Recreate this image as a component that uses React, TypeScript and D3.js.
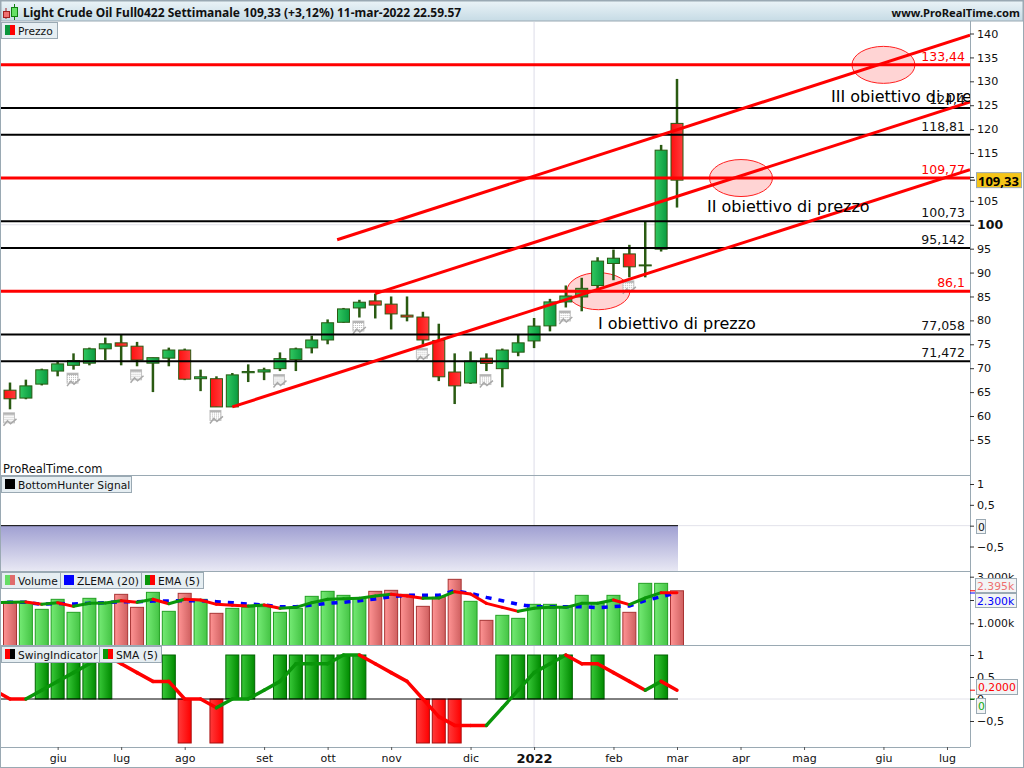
import React, { useEffect, useRef } from 'react'
import * as d3 from 'd3'

// Weekly candles
const opens = [65.4, 63.75, 66.67, 69.4, 70.6, 71.05, 74.05, 75.3, 74.6, 71.05, 72.1, 73.8, 67.8, 67.8, 61.9, 69.05, 69.2, 69.9, 71.8, 74.25, 75.9, 79.6, 82.6, 84.07, 83.4, 81.1, 80.7, 75.8, 69.2, 66.9, 72.1, 69.9, 73.35, 75.7, 78.85, 83.86, 84.9, 87.3, 91.9, 93.9, 91.4, 94.9, 121.2]
const closes = [63.6, 66.3, 69.66, 70.9, 71.6, 74.05, 75.1, 74.6, 71.7, 72.2, 73.8, 67.7, 68.2, 61.9, 68.6, 69.3, 69.66, 72, 74.05, 75.9, 79.5, 82.4, 83.8, 83.2, 81.35, 80.7, 75.9, 68.2, 66.3, 71.5, 71, 73.8, 75.3, 78.8, 83.86, 85.1, 86.7, 92.4, 93, 91.2, 91.6, 115.6, 109.33]
const highs = [67, 67.6, 69.9, 71.5, 73.1, 74.3, 76.4, 77.1, 75.5, 72.2, 74.3, 74.1, 69.7, 68.3, 69, 70.8, 70.1, 73.3, 74.3, 76.8, 80.2, 82.6, 84.3, 85.6, 85, 85, 81.8, 79.3, 73.1, 73.5, 73.1, 74.1, 77.1, 80.5, 84.5, 87.3, 88.9, 93.2, 94.8, 95.8, 100.7, 116.7, 130.5]
const lows = [61.4, 63.5, 66.4, 68.3, 69.7, 70.6, 71.7, 70.6, 70.4, 65, 70.4, 67.5, 65.2, 61.9, 61.9, 67.1, 67.5, 69.4, 69.4, 73.1, 75, 79.5, 80.6, 80.4, 78.1, 79.8, 74.9, 67.3, 62.5, 66.7, 69.4, 66, 72.5, 74.2, 77.7, 82.7, 81.9, 86.4, 88.4, 89, 89, 94.4, 103.6]
const iconBars = [0, 4, 8, 13, 17, 22, 26, 30, 35, 39]

// Horizontal levels
const levels = [133.44, 124.4, 118.81, 109.77, 100.73, 95.142, 86.1, 77.058, 71.472]
const levelLabels = ['133,44', '124,4', '118,81', '109,77', '100,73', '95,142', '86,1', '77,058', '71,472']
const redLevels = [133.44, 109.77, 86.1]

// Trend lines as [bar, price] pairs
const channelTop = [[20.6, 96.87], [60.45, 139.67]]
const channelMid = [[23, 85.6], [60.45, 125.68]]
const channelLow = [[14, 61.9], [60.45, 111.5]]
const targets = [[37.05, 86.1], [46.03, 109.77], [55, 133.44]]
const notes = ['I obiettivo di prezzo', 'II obiettivo di prezzo', 'III obiettivo di prezzo']

// Volume pane, thousands. The averages start one bar before the first candle
const volumes = [1.857, 1.886, 1.599, 2.029, 1.471, 2.072, 1.857, 2.243, 1.685, 2.329, 1.514, 2.286, 2.029, 1.428, 1.643, 1.685, 1.714, 1.471, 1.643, 2.157, 2.372, 2.2, 2.086, 2.372, 2.415, 2.243, 1.728, 2.115, 2.887, 1.943, 1.127, 1.342, 1.213, 1.814, 1.814, 1.685, 2.2, 1.857, 2.2, 1.471, 2.715, 2.715, 2.395]
const ema = [1.89, 1.9, 1.914, 1.814, 1.885, 1.728, 1.857, 1.871, 1.971, 1.9, 2.03, 1.842, 2.03, 2.0, 1.814, 1.771, 1.742, 1.785, 1.642, 1.685, 1.885, 2.03, 2.057, 2.071, 2.171, 2.243, 2.171, 2.071, 2.085, 2.357, 2.257, 1.857, 1.685, 1.513, 1.642, 1.685, 1.685, 1.857, 1.857, 2.0, 1.8, 2.086, 2.314, 2.31]
const zlema = [1.9, 1.9, 1.9, 1.814, 1.857, 1.828, 1.857, 1.885, 1.928, 1.928, 1.957, 1.957, 1.971, 1.971, 1.928, 1.885, 1.828, 1.785, 1.714, 1.714, 1.785, 1.857, 1.9, 1.971, 2.043, 2.143, 2.2, 2.2, 2.2, 2.4, 2.286, 2.114, 1.971, 1.814, 1.714, 1.714, 1.714, 1.714, 1.671, 1.714, 1.742, 1.971, 2.143, 2.3]

// Swing pane
const swing = [0, 0, 1, 1, 1, 1, 1, 0, 0, 0, 1, -1, 0, -1, 1, 1, 0, 1, 1, 1, 1, 1, 1, 0, 0, 0, -1, -1, -1, 0, 0, 1, 1, 1, 1, 1, 0, 1, 0, 0, 0, 1, 0]
const sma = [0.2, 0, 0, 0.2, 0.4, 0.6, 0.8, 1, 0.8, 0.6, 0.4, 0.4, 0, 0, -0.2, 0, 0, 0.2, 0.4, 0.8, 0.8, 0.8, 1, 1, 0.8, 0.6, 0.4, 0, -0.4, -0.6, -0.6, -0.6, -0.2, 0.2, 0.6, 0.8, 1, 0.8, 0.8, 0.6, 0.4, 0.2, 0.4, 0.2]

// Time axis
const monthBars = [3, 7, 11, 16, 20, 24, 29, 33, 38, 42, 46, 50, 55, 59]
const monthLabels = ['giu', 'lug', 'ago', 'set', 'ott', 'nov', 'dic', '2022', 'feb', 'mar', 'apr', 'mag', 'giu', 'lug']
const priceTicks = [55, 60, 65, 70, 75, 80, 85, 90, 95, 100, 105, 110, 115, 120, 125, 130, 135, 140]

const FONT = '"DejaVu Sans", sans-serif'
const TITLE_FONT = '"Noto Sans", sans-serif'
const GREY = '#9aa9b3'
const AXIS_X = 970

function comma(d) {
    return String(d).replace('.', ',').replace('-', '\u2212')
}

function addGradient(defs, id, from, to, vertical = false) {
    const g = defs.append('linearGradient').attr('id', id)
        .attr('x1', 0).attr('y1', 0).attr('x2', vertical ? 0 : 1).attr('y2', vertical ? 1 : 0)
    g.append('stop').attr('offset', '0%').attr('stop-color', from)
    g.append('stop').attr('offset', '100%').attr('stop-color', to)
}

function label(group, x, y, text, size = 12, color = '#000', anchor = 'start', weight = 'normal') {
    return group.append('text').attr('x', x).attr('y', y).text(text)
        .attr('font-family', FONT).attr('font-size', size).attr('fill', color)
        .attr('text-anchor', anchor).attr('font-weight', weight).attr('dominant-baseline', 'central')
}

function rightAxis(svg, scale, values, format, size = 11.2) {
    const g = svg.append('g').attr('transform', `translate(${AXIS_X}, 0)`)
        .call(d3.axisRight(scale).tickValues(values).tickSize(4).tickPadding(3).tickFormat(format))
    g.select('.domain').remove()
    g.selectAll('line').attr('stroke', '#333')
    g.selectAll('text').attr('font-family', FONT).attr('font-size', size).attr('fill', '#111')
    return g
}

// Coloured by direction, a flat stretch keeps the colour before it
function directionLine(group, x, y, values, width) {
    const line = d3.line().x(d => x(d[0])).y(d => y(d[1]))
    let color = values[1] > values[0] ? '#0a960a' : '#ff0000'
    values.slice(1).forEach((v, i) => {
        if (v > values[i]) color = '#0a960a'
        if (v < values[i]) color = '#ff0000'
        group.append('path').attr('d', line([[i - 1, values[i]], [i, v]]))
            .attr('fill', 'none').attr('stroke', color).attr('stroke-width', width).attr('stroke-linecap', 'round')
    })
}

function tag(svg, x, y, w, h, text, color) {
    svg.append('rect').attr('x', x + 0.5).attr('y', y + 0.5).attr('width', w).attr('height', h)
        .attr('fill', '#f2f4f5').attr('stroke', GREY)
    label(svg, x + 2, y + h / 2 + 1, text, 10.8, color)
}

function legend(svg, x, y, w, text, from, to) {
    svg.append('rect').attr('x', x + 0.5).attr('y', y + 0.5).attr('width', w).attr('height', 16)
        .attr('fill', '#e6eef2').attr('stroke', GREY)
    svg.append('rect').attr('x', x + 4).attr('y', y + 3).attr('width', 5).attr('height', 10).attr('fill', from)
    svg.append('rect').attr('x', x + 9).attr('y', y + 3).attr('width', 5).attr('height', 10).attr('fill', to)
    label(svg, x + 17, y + 9, text, 10.7, '#111')
}

function calendarIcon(group, cx, cy) {
    const g = group.append('g').attr('transform', `translate(${cx - 6.5}, ${cy - 6.5})`)
    g.append('rect').attr('width', 11).attr('height', 10).attr('fill', 'url(#iconDots)').attr('stroke', '#c4c4c4')
    g.append('rect').attr('width', 11).attr('height', 2).attr('fill', '#b4b4b4')
    g.append('path').attr('d', 'M0 13L4 8L7 11L13 6').attr('fill', 'none').attr('stroke', '#a8a8a8').attr('stroke-width', 1.5)
}

function App() {
    const ref = useRef(null)

    useEffect(() => {
        const svg = d3.select(ref.current)
        svg.selectAll('*').remove()
        const defs = svg.append('defs')
        addGradient(defs, 'title', '#eaf3f7', '#c6dbe5', true)
        addGradient(defs, 'candleUp', '#30c860', '#0a9a40')
        addGradient(defs, 'candleDown', '#ff1010', '#ff3c3c')
        addGradient(defs, 'volUp', '#74ea74', '#45c445')
        addGradient(defs, 'volDown', '#ff9494', '#cf6060')
        addGradient(defs, 'swingUp', '#38c838', '#008a00')
        addGradient(defs, 'swingDown', '#ff3a3a', '#ff0000')
        addGradient(defs, 'hunter', '#a0a0d2', '#e8e8f4', true)
        const dots = defs.append('pattern').attr('id', 'iconDots').attr('width', 2).attr('height', 2).attr('patternUnits', 'userSpaceOnUse')
        dots.append('rect').attr('width', 2).attr('height', 2).attr('fill', '#fff')
        dots.append('rect').attr('width', 1).attr('height', 1).attr('fill', '#b8b8b8')
        defs.append('clipPath').attr('id', 'mainClip').append('rect').attr('x', 1).attr('y', 22).attr('width', AXIS_X - 1).attr('height', 453)
        defs.append('clipPath').attr('id', 'volClip').append('rect').attr('x', 1).attr('y', 571).attr('width', AXIS_X - 1).attr('height', 74)
        defs.append('clipPath').attr('id', 'swingClip').append('rect').attr('x', 1).attr('y', 646).attr('width', AXIS_X - 1).attr('height', 101)

        const x = d3.scaleLinear().domain([0, 42]).range([10, 677])
        const y = d3.scaleLinear().domain([60, 140]).range([416, 33.5])
        const yHunter = d3.scaleLinear().domain([-0.5, 1]).range([546.5, 484])
        const yVol = d3.scaleLinear().domain([0, 3]).range([646.6, 576.7])
        const ySwing = d3.scaleLinear().domain([-1, 1]).range([743, 655])
        const bars = d3.range(opens.length)

        svg.append('rect').attr('width', 1024).attr('height', 768).attr('fill', '#fff')

        // Grid
        svg.append('line').attr('x1', x(33)).attr('x2', x(33)).attr('y1', 22).attr('y2', 747).attr('stroke', '#dcdce8')
        svg.append('line').attr('x1', 1).attr('x2', AXIS_X).attr('y1', y(100)).attr('y2', y(100)).attr('stroke', '#e2e2ea')

        // Main pane
        const main = svg.append('g').attr('clip-path', 'url(#mainClip)')
        main.selectAll('.target').data(targets).enter().append('ellipse')
            .attr('cx', d => x(d[0])).attr('cy', d => y(d[1]))
            .attr('rx', 31.5).attr('ry', 18.5)
            .attr('fill', 'rgba(255,0,0,0.17)').attr('stroke', '#ff2020')

        main.selectAll('.wick').data(bars).enter().append('line')
            .attr('x1', i => x(i)).attr('x2', i => x(i))
            .attr('y1', i => y(highs[i])).attr('y2', i => y(lows[i]))
            .attr('stroke', '#2a5a12').attr('stroke-width', 2.5)
        main.selectAll('.body').data(bars).enter().append('rect')
            .attr('x', i => x(i) - 6).attr('width', 12)
            .attr('y', i => y(Math.max(opens[i], closes[i])))
            .attr('height', i => Math.abs(y(opens[i]) - y(closes[i])))
            .attr('fill', i => closes[i] >= opens[i] ? 'url(#candleUp)' : 'url(#candleDown)')
            .attr('stroke', '#2a5a12').attr('stroke-width', 1)

        iconBars.forEach(i => calendarIcon(main, x(i), y(lows[i]) + 10))

        levels.forEach(level => {
            const red = redLevels.includes(level)
            main.append('line').attr('x1', 1).attr('x2', AXIS_X).attr('y1', y(level)).attr('y2', y(level))
                .attr('stroke', red ? '#ff0000' : '#000').attr('stroke-width', red ? 3 : 2)
        })

        const trend = d3.line().x(d => x(d[0])).y(d => y(d[1]))
        ;[channelTop, channelMid, channelLow].forEach(points => {
            main.append('path').attr('d', trend(points)).attr('fill', 'none').attr('stroke', '#ff0000').attr('stroke-width', 3)
        })

        levels.forEach((level, i) => {
            label(main, 965, y(level) - 8.5, levelLabels[i], 12.5, redLevels.includes(level) ? '#ff0000' : '#111', 'end')
        })
        label(main, 598, 323, notes[0], 16)
        label(main, 707, 206, notes[1], 16)
        label(main, 831, 96, notes[2], 16)
        label(svg, 3, 469, 'ProRealTime.com', 11.5, '#111')

        // BottomHunter pane
        svg.append('rect').attr('x', 1).attr('y', yHunter(0)).attr('width', x(42))
            .attr('height', 571 - yHunter(0)).attr('fill', 'url(#hunter)')
        svg.append('line').attr('x1', 1).attr('x2', x(42) + 1).attr('y1', yHunter(0)).attr('y2', yHunter(0)).attr('stroke', '#000')
        svg.append('line').attr('x1', x(42) + 1).attr('x2', AXIS_X).attr('y1', yHunter(0)).attr('y2', yHunter(0)).attr('stroke', '#e2e2ea')

        // Volume pane
        const vol = svg.append('g').attr('clip-path', 'url(#volClip)')
        vol.selectAll('.vol').data(bars).enter().append('rect')
            .attr('x', i => x(i) - 6.5).attr('width', 13)
            .attr('y', i => yVol(volumes[i])).attr('height', i => yVol(0) - yVol(volumes[i]))
            .attr('fill', i => closes[i] >= opens[i] ? 'url(#volUp)' : 'url(#volDown)')
            .attr('stroke', i => closes[i] >= opens[i] ? '#23a023' : '#a83434')
        vol.append('path').attr('d', d3.line().x((d, i) => x(i - 1)).y(d => yVol(d))(zlema))
            .attr('fill', 'none').attr('stroke', '#0000ff').attr('stroke-width', 3.5).attr('stroke-dasharray', '6 7')
        directionLine(vol, x, yVol, ema, 3)

        // Swing pane
        const swingPane = svg.append('g').attr('clip-path', 'url(#swingClip)')
        swingPane.selectAll('.swing').data(bars.filter(i => swing[i] !== 0)).enter().append('rect')
            .attr('x', i => x(i) - 6.5).attr('width', 13)
            .attr('y', i => Math.min(ySwing(swing[i]), ySwing(0)))
            .attr('height', i => Math.abs(ySwing(swing[i]) - ySwing(0)))
            .attr('fill', i => swing[i] > 0 ? 'url(#swingUp)' : 'url(#swingDown)')
            .attr('stroke', i => swing[i] > 0 ? '#006400' : '#a81010')
        swingPane.append('line').attr('x1', 1).attr('x2', x(42) + 1).attr('y1', ySwing(0)).attr('y2', ySwing(0)).attr('stroke', '#000')
        swingPane.append('line').attr('x1', x(42) + 1).attr('x2', AXIS_X).attr('y1', ySwing(0)).attr('y2', ySwing(0)).attr('stroke', '#e2e2ea')
        directionLine(swingPane, x, ySwing, sma, 3.5)

        // Frame
        ;[475, 571, 645, 747].forEach(py => {
            svg.append('line').attr('x1', 0).attr('x2', AXIS_X).attr('y1', py + 0.5).attr('y2', py + 0.5).attr('stroke', GREY)
        })
        svg.append('line').attr('x1', AXIS_X + 0.5).attr('x2', AXIS_X + 0.5).attr('y1', 21).attr('y2', 747).attr('stroke', GREY)
        svg.append('rect').attr('x', 0.5).attr('y', 0.5).attr('width', 1023).attr('height', 767).attr('fill', 'none').attr('stroke', GREY)

        // Title bar
        svg.append('rect').attr('x', 1).attr('y', 1).attr('width', 1022).attr('height', 20).attr('fill', 'url(#title)').attr('stroke', GREY)
        svg.append('line').attr('x1', 6).attr('x2', 6).attr('y1', 8).attr('y2', 19).attr('stroke', '#a02020')
        svg.append('rect').attr('x', 3.5).attr('y', 11.5).attr('width', 6).attr('height', 6).attr('fill', '#ef7070').attr('stroke', '#a02020')
        svg.append('line').attr('x1', 14.5).attr('x2', 14.5).attr('y1', 4).attr('y2', 20).attr('stroke', '#108010')
        svg.append('rect').attr('x', 11.5).attr('y', 7.5).attr('width', 6).attr('height', 9).attr('fill', '#66e066').attr('stroke', '#108010')
        label(svg, 23, 12, 'Light Crude Oil  Full0422 Settimanale 109,33 (+3,12%) 11-mar-2022 22.59.57', 12, '#111', 'start', 'bold').attr('font-family', TITLE_FONT)
        label(svg, 1020, 12, 'www.ProRealTime.com', 11.2, '#111', 'end', 'bold').attr('font-family', TITLE_FONT)

        legend(svg, 1, 22, 56, 'Prezzo', '#0a963c', '#ff0000')
        legend(svg, 1, 476, 130, 'BottomHunter Signal', '#000', '#000')
        legend(svg, 1, 572, 59, 'Volume', '#66dd66', '#e06c6c')
        legend(svg, 60, 572, 81, 'ZLEMA (20)', '#0000ff', '#0000ff')
        legend(svg, 141, 572, 62, 'EMA (5)', '#0a960a', '#ff0000')
        legend(svg, 1, 646, 98, 'SwingIndicator', '#ff0000', '#000')
        legend(svg, 99, 646, 62, 'SMA (5)', '#0a960a', '#ff0000')

        // Axes
        const priceAxis = rightAxis(svg, y, priceTicks, d => String(d))
        priceAxis.selectAll('.tick').filter(d => d === 100).select('text')
            .attr('font-weight', 'bold').attr('font-size', 12.5)
        rightAxis(svg, yHunter, [1, 0.5, 0, -0.5], comma)
        rightAxis(svg, yVol, [3, 2, 1], d => `${d}.000k`, 10.8)
        rightAxis(svg, ySwing, [1, 0.5, 0, -0.5], comma)

        const timeAxis = svg.append('g').attr('transform', 'translate(0, 747)')
            .call(d3.axisBottom(x).tickValues(monthBars).tickSize(3).tickPadding(4).tickFormat((d, i) => monthLabels[i]))
        timeAxis.select('.domain').remove()
        timeAxis.selectAll('line').attr('stroke', '#555')
        timeAxis.selectAll('text').attr('font-family', FONT).attr('font-size', 11).attr('fill', '#111')
        timeAxis.selectAll('.tick').filter(d => d === 33).select('text')
            .attr('font-weight', 'bold').attr('font-size', 13)

        // Last value tags
        svg.append('rect').attr('x', 976.5).attr('y', y(closes[42]) - 7.5).attr('width', 45).attr('height', 15)
            .attr('fill', '#f5c518').attr('stroke', GREY)
        label(svg, 978, y(closes[42]) + 0.5, '109,33', 13, '#000', 'start', 'bold').attr('font-family', TITLE_FONT)
        svg.append('line').attr('x1', AXIS_X).attr('x2', 975).attr('y1', y(closes[42])).attr('y2', y(closes[42])).attr('stroke', '#000')
        tag(svg, 976, 519, 9, 14, '0', '#111')
        tag(svg, 975, 578, 41, 14, '2.395k', '#ee7070')
        tag(svg, 975, 593, 41, 14, '2.300k', '#0000ff')
        svg.append('line').attr('x1', AXIS_X).attr('x2', 975).attr('y1', yVol(zlema[43])).attr('y2', yVol(zlema[43])).attr('stroke', '#0000ff')
        svg.append('line').attr('x1', AXIS_X).attr('x2', 975).attr('y1', yVol(volumes[42])).attr('y2', yVol(volumes[42])).attr('stroke', '#ff0000')
        tag(svg, 976, 679, 41, 15, '0,2000', '#ff0000')
        tag(svg, 976, 698, 9, 15, '0', '#10a810')
        svg.append('line').attr('x1', AXIS_X).attr('x2', 975).attr('y1', ySwing(sma[43])).attr('y2', ySwing(sma[43])).attr('stroke', '#ff0000')
        svg.append('line').attr('x1', AXIS_X).attr('x2', 975).attr('y1', ySwing(0)).attr('y2', ySwing(0)).attr('stroke', '#008a00')
    }, [])

    return <svg ref={ref} width={1024} height={768} style={{ position: 'absolute', left: 0, top: 0 }} />
}

export default App
